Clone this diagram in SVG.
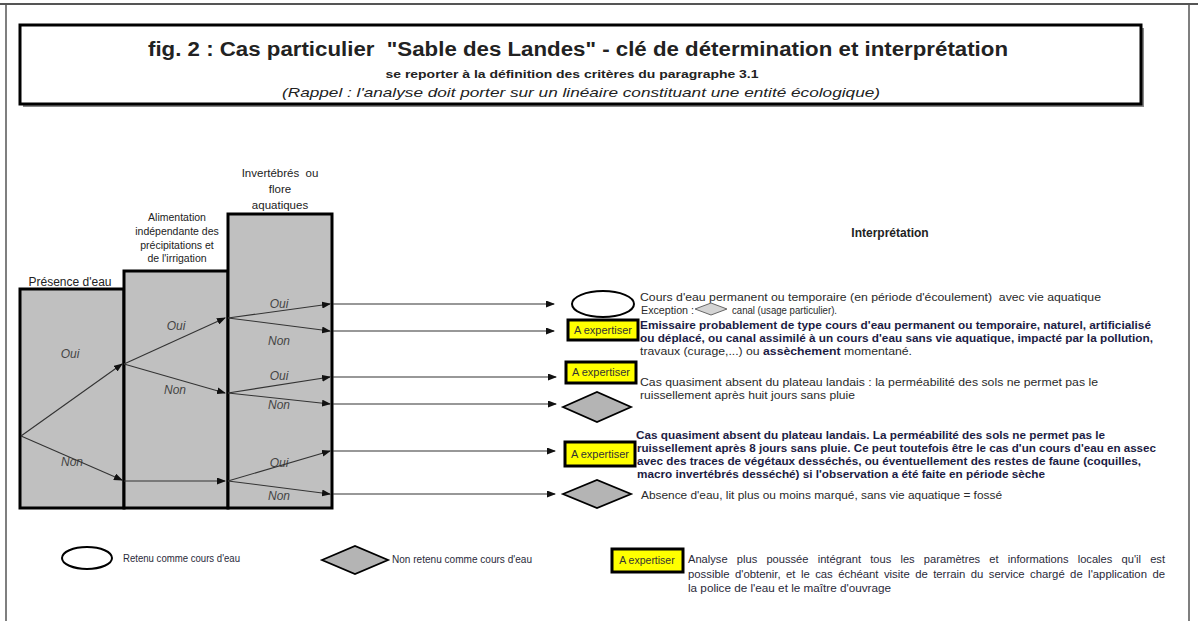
<svg xmlns="http://www.w3.org/2000/svg" width="1198" height="621" viewBox="0 0 1198 621">
<style>
text{font-family:"Liberation Sans",Arial,sans-serif;fill:#222}
.col{fill:#c0c0c0;stroke:#000;stroke-width:3}
.lab{font-size:11.5px;text-anchor:middle;fill:#222}
.lab2{font-size:10.5px;text-anchor:middle;fill:#222}
.on{font-size:12px;font-style:italic;text-anchor:middle;fill:#444}
.c{stroke:#333;stroke-width:1.1;fill:none;marker-end:url(#ah)}
.exp{fill:#ffff00;stroke:#000;stroke-width:3}
.expt{font-size:11px;text-anchor:middle;fill:#333}
.dia{fill:#b4b4b4;stroke:#000;stroke-width:1.8}
.d{font-size:11px;fill:#2a2a2a}
.db{font-size:11px;font-weight:bold;fill:#1c1c44}
.lg{font-size:10px;fill:#2a2a3a}
</style>
<defs>
<marker id="ah" markerWidth="9" markerHeight="7" refX="8" refY="3.5" orient="auto" markerUnits="userSpaceOnUse">
<path d="M0,0 L9,3.5 L0,7 Z" fill="#111"/>
</marker>
</defs>
<rect width="1198" height="621" fill="#fff"/>
<g id="frame" stroke="#555" fill="none">
<line x1="0" y1="4" x2="1198" y2="4" stroke-width="2"/>
<line x1="6" y1="4" x2="6" y2="621" stroke-width="1.5"/>
<line x1="1189" y1="4" x2="1189" y2="621" stroke-width="1.5"/>
</g>
<g id="title">
<rect x="23" y="28" width="1121" height="79" fill="#888"/>
<rect x="20" y="25" width="1121" height="79" fill="#fff" stroke="#000" stroke-width="3"/>
<text xml:space="preserve" x="578" y="56" font-size="19.5" font-weight="bold" text-anchor="middle" textLength="860" lengthAdjust="spacingAndGlyphs" fill="#111">fig. 2 : Cas particulier  "Sable des Landes" - clé de détermination et interprétation</text>
<text x="572" y="78" font-size="11" font-weight="bold" text-anchor="middle" textLength="373" lengthAdjust="spacingAndGlyphs" fill="#111">se reporter à la définition des critères du paragraphe 3.1</text>
<text x="581" y="97" font-size="13.5" font-style="italic" text-anchor="middle" textLength="598" lengthAdjust="spacingAndGlyphs" fill="#222">(Rappel : l'analyse doit porter sur un linéaire constituant une entité écologique)</text>
</g>
<g id="col1">
<rect class="col" x="20" y="289" width="104" height="219"/>
<text x="70" y="286" font-size="12" text-anchor="middle" fill="#222">Présence d'eau</text>
</g>
<g id="col2">
<text class="lab2" x="177" y="221">Alimentation</text>
<text class="lab2" x="177" y="235">indépendante des</text>
<text class="lab2" x="177" y="249">précipitations et</text>
<text class="lab2" x="177" y="262">de l'irrigation</text>
<rect class="col" x="124" y="271" width="104" height="237"/>
</g>
<g id="col3">
<rect class="col" x="228" y="214" width="104" height="294"/>
<text class="lab" x="280" y="177" xml:space="preserve">Invertébrés  ou</text>
<text class="lab" x="280" y="193">flore</text>
<text class="lab" x="280" y="209">aquatiques</text>
</g>
<g id="labels">
<text class="on" x="70" y="358">Oui</text>
<text class="on" x="72" y="466">Non</text>
<text class="on" x="176" y="330">Oui</text>
<text class="on" x="175" y="394">Non</text>
<text class="on" x="279" y="308">Oui</text>
<text class="on" x="279" y="345">Non</text>
<text class="on" x="279" y="380">Oui</text>
<text class="on" x="279" y="409">Non</text>
<text class="on" x="279" y="467">Oui</text>
<text class="on" x="279" y="500">Non</text>
</g>
<g id="connectors">
<line class="c" x1="21" y1="436" x2="122" y2="364"/>
<line class="c" x1="21" y1="436" x2="122" y2="480"/>
<line class="c" x1="124" y1="364" x2="225" y2="318"/>
<line class="c" x1="124" y1="364" x2="225" y2="393"/>
<line class="c" x1="124" y1="481" x2="225" y2="481"/>
<line class="c" x1="228" y1="318" x2="330" y2="304"/>
<line class="c" x1="228" y1="318" x2="330" y2="331"/>
<line class="c" x1="228" y1="393" x2="330" y2="377"/>
<line class="c" x1="228" y1="393" x2="330" y2="404"/>
<line class="c" x1="228" y1="481" x2="330" y2="451"/>
<line class="c" x1="228" y1="481" x2="330" y2="494"/>
<line class="c" x1="333" y1="304" x2="554" y2="304"/>
<line class="c" x1="333" y1="331" x2="554" y2="331"/>
<line class="c" x1="333" y1="377" x2="556" y2="377"/>
<line class="c" x1="333" y1="404" x2="556" y2="404"/>
<line class="c" x1="333" y1="451" x2="555" y2="451"/>
<line class="c" x1="333" y1="494" x2="555" y2="494"/>
</g>
<g id="r1">
<ellipse cx="603" cy="304" rx="31" ry="13" fill="#fff" stroke="#000" stroke-width="2"/>
<text class="d" xml:space="preserve" x="640" y="301" textLength="461" lengthAdjust="spacingAndGlyphs">Cours d'eau permanent ou temporaire (en période d'écoulement)  avec vie aquatique</text>
<text class="d" x="641" y="314" textLength="53" lengthAdjust="spacingAndGlyphs">Exception :</text>
<polygon points="695,309 711,303 727,309 711,315" fill="#d4d4d4" stroke="#666" stroke-width="1"/>
<text class="d" x="732" y="314" textLength="105" lengthAdjust="spacingAndGlyphs">canal (usage particulier).</text>
</g>
<g id="r2">
<rect class="exp" x="568" y="320" width="70" height="20"/>
<text class="expt" x="603" y="334">A expertiser</text>
<text class="db" x="640" y="329" textLength="511" lengthAdjust="spacingAndGlyphs">Emissaire probablement de type cours d'eau permanent ou temporaire, naturel, artificialisé</text>
<text class="db" x="640" y="342" textLength="513" lengthAdjust="spacingAndGlyphs">ou déplacé, ou canal assimilé à un cours d'eau sans vie aquatique, impacté par la pollution,</text>
<text class="d" x="640" y="355" textLength="272" lengthAdjust="spacingAndGlyphs">travaux (curage,...) ou <tspan class="db">assèchement</tspan> momentané.</text>
</g>
<g id="r3">
<rect class="exp" x="566" y="362" width="70" height="21"/>
<text class="expt" x="601" y="376">A expertiser</text>
<text class="d" x="640" y="386" textLength="458" lengthAdjust="spacingAndGlyphs">Cas quasiment absent du plateau landais : la perméabilité des sols ne permet pas le</text>
<text class="d" x="640" y="399" textLength="215" lengthAdjust="spacingAndGlyphs">ruissellement après huit jours sans pluie</text>
</g>
<g id="r4">
<polygon class="dia" points="563,407 597,392 631,407 597,422"/>
</g>
<g id="r5">
<rect class="exp" x="565" y="442" width="70" height="24"/>
<text class="expt" x="600" y="458">A expertiser</text>
<text class="db" x="636" y="439" textLength="469" lengthAdjust="spacingAndGlyphs">Cas quasiment absent du plateau landais. La perméabilité des sols ne permet pas le</text>
<text class="db" x="637" y="452" textLength="519" lengthAdjust="spacingAndGlyphs">ruissellement après 8 jours sans pluie. Ce peut toutefois être le cas d'un cours d'eau en assec</text>
<text class="db" x="637" y="465" textLength="504" lengthAdjust="spacingAndGlyphs">avec des traces de végétaux desséchés, ou éventuellement des restes de faune (coquilles,</text>
<text class="db" x="637" y="478" textLength="408" lengthAdjust="spacingAndGlyphs">macro invertébrés desséché) si l'observation a été faite en période sèche</text>
</g>
<g id="r6">
<polygon class="dia" points="563,494 597,480 631,494 597,508"/>
<text class="d" x="641" y="499" textLength="361" lengthAdjust="spacingAndGlyphs">Absence d'eau, lit plus ou moins marqué, sans vie aquatique = fossé</text>
</g>
<text x="890" y="237" font-size="12" font-weight="bold" text-anchor="middle" fill="#222">Interprétation</text>
<g id="legend">
<ellipse cx="87" cy="558" rx="25" ry="11" fill="#fff" stroke="#000" stroke-width="2"/>
<text class="lg" x="123" y="562" textLength="117" lengthAdjust="spacingAndGlyphs">Retenu comme cours d'eau</text>
<polygon class="dia" points="322,560 355,546 388,560 355,574"/>
<text class="lg" x="392" y="563" textLength="140" lengthAdjust="spacingAndGlyphs">Non retenu comme cours d'eau</text>
<rect class="exp" x="612" y="549" width="71" height="23"/>
<text class="expt" x="647" y="564" style="font-size:10.5px">A expertiser</text>
<text class="lg" x="688" y="563" word-spacing="5.5" textLength="477" lengthAdjust="spacingAndGlyphs">Analyse plus poussée intégrant tous les paramètres et informations locales qu'il est</text>
<text class="lg" x="688" y="578" word-spacing="2" textLength="477" lengthAdjust="spacingAndGlyphs">possible d'obtenir, et le cas échéant visite de terrain du service chargé de l'application de</text>
<text class="lg" x="688" y="592" textLength="203" lengthAdjust="spacingAndGlyphs">la police de l'eau et le maître d'ouvrage</text>
</g>
</svg>
